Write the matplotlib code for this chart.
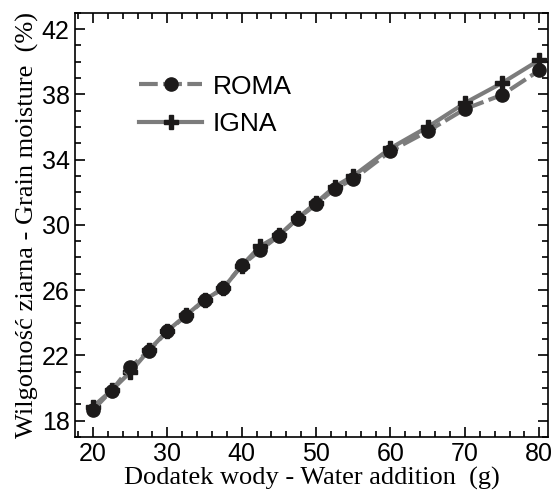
import matplotlib
matplotlib.use("Agg")
import matplotlib.pyplot as plt
from matplotlib.ticker import MultipleLocator

# water addition (g)
water = [20, 22.5, 25, 27.5, 30, 32.5, 35, 37.5, 40, 42.5, 45, 47.5, 50,
         52.5, 55, 60, 65, 70, 75, 80]
# grain moisture (%)
roma = [18.65, 19.83, 21.26, 22.28, 23.47, 24.42, 25.38, 26.10, 27.52, 28.45,
        29.33, 30.38, 31.25, 32.21, 32.79, 34.52, 35.74, 37.10, 37.97, 39.47]
igna = [18.85, 19.85, 20.96, 22.30, 23.50, 24.45, 25.40, 26.10, 27.50, 28.70,
        29.35, 30.40, 31.35, 32.35, 33.00, 34.70, 36.00, 37.47, 38.70, 40.10]

y_ticks = [18, 22, 26, 30, 34, 38, 42]

line_col = "#7c7c7c"
mark_col = "#1c1a1a"

fig = plt.figure(figsize=(5.56, 4.92), dpi=100)
ax = fig.add_axes([0.135, 0.112, 0.851, 0.862])

ax.plot(water, roma, color=line_col, lw=3, ls=(0, (4.5, 1.3)), marker="o",
        ms=9.5, mfc=mark_col, mec=mark_col, label="ROMA", zorder=3)
ax.plot(water, igna, color=line_col, lw=3, marker="P", ms=10.5,
        mfc=mark_col, mec=mark_col, label="IGNA", zorder=2)

ax.set_xlim(17.6, 81.2)
ax.set_ylim(17.0, 43.0)
ax.xaxis.set_major_locator(MultipleLocator(10))
ax.xaxis.set_minor_locator(MultipleLocator(2))
ax.set_yticks(y_ticks)
ax.yaxis.set_minor_locator(MultipleLocator(1))
ax.tick_params(which="both", direction="in", top=True, right=True,
               width=1.2, labelsize=18, pad=4)
ax.tick_params(which="major", length=7)
ax.tick_params(which="minor", length=4)
for lab in ax.get_xticklabels() + ax.get_yticklabels():
    lab.set_family("Liberation Sans")
for s in ax.spines.values():
    s.set_linewidth(1.2)

ax.set_xlabel("Dodatek wody - Water addition  (g)", family="Liberation Serif",
              fontsize=19, labelpad=0)
ax.set_ylabel("Wilgotność ziarna - Grain moisture  (%)",
              family="Liberation Serif", fontsize=19, labelpad=2)

ax.legend(loc="upper left", bbox_to_anchor=(0.085, 0.91), frameon=False,
          handlelength=2.4, prop={"family": "Liberation Sans", "size": 19},
          labelspacing=0.5, handletextpad=0.4)

fig.savefig("out.png", dpi=100)
